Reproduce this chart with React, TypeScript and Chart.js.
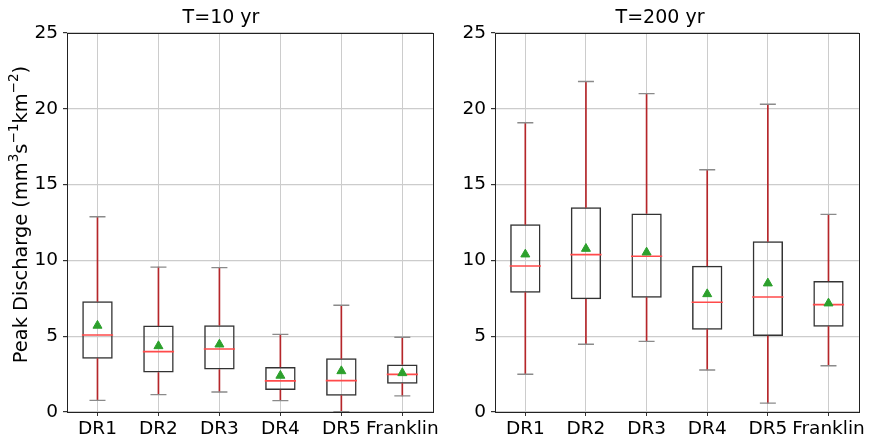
import React, { useEffect, useRef } from 'react';
import { Chart, registerables } from 'chart.js';

Chart.register(...registerables);

const categories = ['DR1', 'DR2', 'DR3', 'DR4', 'DR5', 'Franklin'];
const yTickMax = 25;
const yTickStep = 5;
// y-axis label pieces: [text, isSuperscript]
const yLabelParts: [string, boolean][] = [
  ['Peak Discharge (mm', false],
  ['3', true],
  ['s', false],
  ['−1', true],
  ['km', false],
  ['−2', true],
  [')', false],
];

// T=10 yr
const t10Low = [0.77, 1.15, 1.32, 0.75, 0.02, 1.06];
const t10Q1 = [3.52, 2.6, 2.8, 1.45, 1.08, 1.87];
const t10Median = [5.08, 3.98, 4.16, 2.05, 2.07, 2.48];
const t10Q3 = [7.3, 5.7, 5.72, 2.97, 3.54, 3.14];
const t10High = [12.88, 9.56, 9.52, 5.12, 7.04, 4.93];
const t10Mean = [5.7, 4.35, 4.46, 2.4, 2.7, 2.57];

// T=200 yr
const t200Low = [2.49, 4.47, 4.66, 2.77, 0.59, 3.05];
const t200Q1 = [7.87, 7.43, 7.54, 5.43, 5.01, 5.63];
const t200Median = [9.63, 10.38, 10.27, 7.24, 7.59, 7.08];
const t200Q3 = [12.38, 13.5, 13.1, 9.65, 11.26, 8.64];
const t200High = [19.08, 21.8, 21.0, 15.98, 20.3, 13.04];
const t200Mean = [10.4, 10.77, 10.53, 7.78, 8.49, 7.17];

const FONT = 'DejaVu Sans';
const TICK_SIZE = 18.5;
const TITLE_SIZE = 19;
const YLABEL_SIZE = 19.4;
const WHISKER = '#b5262a';
const CAP = '#8a8a8a';
const BOX = '#333333';
const MEDIAN = '#ff4a4a';
const MEAN = '#2ca02c';
const GRID = '#cccccc';

const spinePlugin = {
  id: 'spines',
  afterDraw(chart: any) {
    const { ctx, chartArea } = chart;
    ctx.save();
    ctx.strokeStyle = '#222';
    ctx.lineWidth = 1;
    ctx.strokeRect(
      Math.round(chartArea.left) + 0.5,
      Math.round(chartArea.top) + 0.5,
      Math.round(chartArea.right - chartArea.left),
      Math.round(chartArea.bottom - chartArea.top)
    );
    ctx.restore();
  },
};

const yTitlePlugin = {
  id: 'yTitleRich',
  afterDraw(chart: any, _args: any, opts: any) {
    if (!opts || !opts.display) return;
    const { ctx, chartArea } = chart;
    const size = YLABEL_SIZE;
    const supSize = size * 0.7;
    const parts = yLabelParts;
    ctx.save();
    const widths = parts.map(([t, sup]) => {
      ctx.font = `${sup ? supSize : size}px "${FONT}"`;
      return ctx.measureText(t).width;
    });
    const total = widths.reduce((a, b) => a + b, 0);
    const cy = (chartArea.top + chartArea.bottom) / 2 - 8;
    ctx.translate(opts.x, cy);
    ctx.rotate(-Math.PI / 2);
    ctx.fillStyle = '#000';
    ctx.textBaseline = 'alphabetic';
    ctx.textAlign = 'left';
    let x = -total / 2;
    parts.forEach(([t, sup], i) => {
      ctx.font = `${sup ? supSize : size}px "${FONT}"`;
      ctx.fillText(t, x, sup ? -size * 0.42 : 0);
      x += widths[i];
    });
    ctx.restore();
  },
};

type PanelProps = {
  title: string;
  low: number[];
  q1: number[];
  median: number[];
  q3: number[];
  high: number[];
  mean: number[];
  showYTitle: boolean;
  yAxisWidth: number;
  width: number;
  padRight: number;
  left: number;
};

function Panel(p: PanelProps) {
  const ref = useRef<HTMLCanvasElement | null>(null);
  useEffect(() => {
    if (!ref.current) return;
    const chart = new Chart(ref.current, {
      type: 'bar',
      data: {
        labels: categories,
        datasets: [
          {
            type: 'line',
            data: p.mean,
            showLine: false,
            pointStyle: 'triangle',
            pointRadius: 5.2,
            pointBackgroundColor: MEAN,
            pointBorderColor: MEAN,
            pointBorderWidth: 1,
            order: 0,
          } as any,
          {
            type: 'line',
            data: p.median,
            showLine: false,
            pointStyle: 'line',
            pointRadius: 15.6,
            pointBorderColor: MEDIAN,
            pointBorderWidth: 1.6,
            order: 1,
          } as any,
          {
            type: 'line',
            data: p.high,
            showLine: false,
            pointStyle: 'line',
            pointRadius: 8,
            pointBorderColor: CAP,
            pointBorderWidth: 1.3,
            order: 2,
          } as any,
          {
            type: 'line',
            data: p.low,
            showLine: false,
            pointStyle: 'line',
            pointRadius: 8,
            pointBorderColor: CAP,
            pointBorderWidth: 1.3,
            order: 2,
          } as any,
          {
            type: 'bar',
            data: p.q3.map((v, i) => [v, p.high[i]]),
            backgroundColor: WHISKER,
            borderWidth: 0,
            barThickness: 1,
            grouped: false,
            order: 3,
          } as any,
          {
            type: 'bar',
            data: p.q1.map((v, i) => [p.low[i], v]),
            backgroundColor: WHISKER,
            borderWidth: 0,
            barThickness: 1,
            grouped: false,
            order: 3,
          } as any,
          {
            type: 'bar',
            data: p.q1.map((v, i) => [v, p.q3[i]]),
            backgroundColor: 'rgba(255,255,255,0)',
            borderColor: BOX,
            borderWidth: 1.5,
            borderSkipped: false,
            barPercentage: 0.5,
            categoryPercentage: 1,
            grouped: false,
            order: 4,
          } as any,
        ],
      },
      options: {
        responsive: false,
        animation: false,
        devicePixelRatio: 1,
        layout: { padding: { left: 0, right: p.padRight, top: 0, bottom: 0 } },
        plugins: {
          legend: { display: false },
          tooltip: { enabled: false },
          title: {
            display: true,
            text: p.title,
            color: '#000',
            font: { family: FONT, size: TITLE_SIZE, weight: 'normal' },
            lineHeight: 1.2,
            padding: { top: 7, bottom: 3.2 },
          },
          yTitleRich: { display: p.showYTitle, x: 26.5 },
        } as any,
        scales: {
          x: {
            type: 'category',
            offset: true,
            grid: {
              offset: false,
              color: GRID,
              lineWidth: 1,
              drawTicks: true,
              tickLength: 4,
              tickColor: '#333',
            },
            border: { display: false },
            ticks: {
              color: '#000',
              font: { family: FONT, size: TICK_SIZE },
              padding: 2,
              maxRotation: 0,
              autoSkip: false,
            },
            afterFit(scale: any) {
              scale.height = 26;
              scale.paddingLeft = 0;
              scale.paddingRight = 0;
            },
          },
          y: {
            type: 'linear',
            min: 0,
            max: yTickMax,
            grid: {
              color: GRID,
              lineWidth: 1.2,
              drawTicks: true,
              tickLength: 4,
              tickColor: '#333',
            },
            border: { display: false },
            ticks: {
              stepSize: yTickStep,
              color: '#000',
              font: { family: FONT, size: TICK_SIZE },
              padding: 5,
            },
            afterFit(scale: any) {
              scale.width = p.yAxisWidth;
              scale.paddingTop = 0;
              scale.paddingBottom = 0;
            },
          },
        },
      },
      plugins: [spinePlugin, yTitlePlugin],
    } as any);
    return () => chart.destroy();
  }, []);
  return (
    <canvas
      ref={ref}
      width={p.width}
      height={438}
      style={{ position: 'absolute', left: p.left, top: 0, display: 'block' }}
    />
  );
}

export default function App() {
  useEffect(() => {
    document.body.style.margin = '0';
  }, []);
  return (
    <div style={{ position: 'relative', width: 876, height: 438, background: '#fff' }}>
      <Panel
        title="T=10 yr"
        low={t10Low}
        q1={t10Q1}
        median={t10Median}
        q3={t10Q3}
        high={t10High}
        mean={t10Mean}
        showYTitle={true}
        yAxisWidth={67}
        width={450}
        padRight={8}
        left={0}
      />
      <Panel
        title="T=200 yr"
        low={t200Low}
        q1={t200Q1}
        median={t200Median}
        q3={t200Q3}
        high={t200High}
        mean={t200Mean}
        showYTitle={false}
        yAxisWidth={45}
        width={426}
        padRight={6}
        left={450}
      />
    </div>
  );
}
